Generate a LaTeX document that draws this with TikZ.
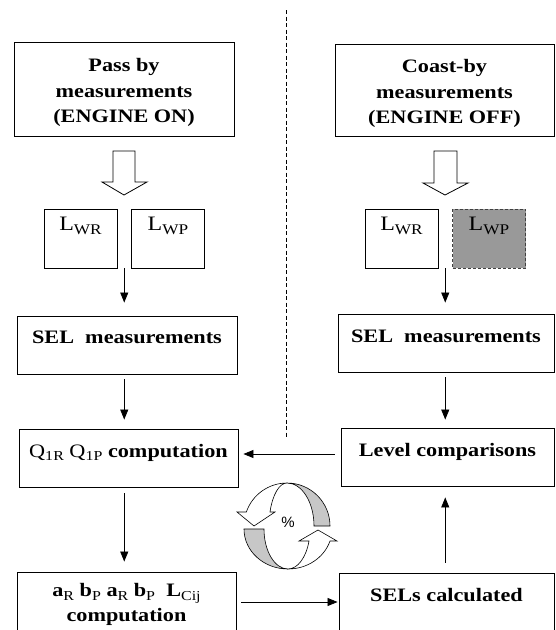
\documentclass[tikz,border=0pt]{standalone}
\usepackage{fontspec}
\setmainfont{Liberation Serif}[FakeStretch=1.17]
\newfontfamily\pctfont{Liberation Sans}
\usetikzlibrary{arrows.meta,calc}
\newcommand\sbx[1]{\raisebox{-0.2em}{\mdseries\scalebox{0.72}{#1}}}
\newcommand\tstrut{\rule{0pt}{21pt}}

\begin{document}
\begin{tikzpicture}[x=1pt,y=-1pt,
	box/.style={draw,line width=0.9pt,inner sep=0pt,font=\fontsize{19}{25.5}\selectfont\bfseries},
	onebox/.style={box,text height=28pt,text depth=30pt},
	lbox/.style={draw,line width=0.9pt,inner sep=0pt,minimum width=73pt,text height=21pt,text depth=38pt,font=\fontsize{20.5}{24}\selectfont},
	flow/.style={-{Triangle[length=10pt,width=8pt]},line width=0.8pt},
	hollow/.style={draw,fill=white,line width=0.8pt},
	band/.style={draw,fill=black!22,line width=0.6pt},
	ribbon/.style={draw,fill=white,line width=0.6pt},
	divider/.style={line width=0.55pt,dash pattern=on 4pt off 2.5pt}]
	\useasboundingbox (0,0) rectangle (555,630);
	
	% left: engine on
	\node[box,align=center,minimum width=220pt,minimum height=94pt] (pass) at (124,89) {\tstrut Pass by\\measurements\\(ENGINE ON)};
	\node[lbox] (lwr1) at (80.5,238.5) {L\sbx{WR}};
	\node[lbox] (lwp1) at (168,238.5) {L\sbx{WP}};
	\node[onebox,minimum width=220pt,text height=27pt,text depth=31pt] (sel1) at (127,345) {SEL\ \ measurements};
	\node[onebox,minimum width=219pt] (qcomp) at (128.5,458) {{\mdseries Q\sbx{1R} Q\sbx{1P}} computation};
	\node[box,align=center,minimum width=219pt,minimum height=60pt] (coef) at (126.5,602) {\rule{0pt}{18pt}a\sbx{R} b\sbx{P} a\sbx{R} b\sbx{P}\ \ L\sbx{Cij}\\computation};
	
	% right: engine off
	\node[box,align=center,minimum width=219pt,minimum height=92pt] (coast) at (444.5,90) {\tstrut Coast-by\\measurements\\(ENGINE OFF)};
	\node[lbox] (lwr2) at (401.5,238.5) {L\sbx{WR}};
	\node[lbox,fill=black!40,draw=black!75,dash pattern=on 3pt off 2pt] (lwp2) at (489,238.5) {L\sbx{WP}};
	\node[onebox,minimum width=216pt] (sel2) at (446,343) {SEL\ \ measurements};
	\node[onebox,minimum width=213pt] (level) at (447.5,457) {Level comparisons};
	\node[onebox,minimum width=215pt,text depth=32pt] (selcalc) at (446.5,603) {SELs calculated};
	
	% divider
	\coordinate (dtop) at (286,10);
	\coordinate (dbot) at (286,437);
	\draw[divider] (dtop) -- (dbot);
	
	% block arrows
	\draw[hollow] (113,151) -- (135,151) -- (135,182) -- (147,182) -- (124,195) -- (102,182) -- (113,182) -- cycle;
	\draw[hollow] (434,151) -- (457,151) -- (457,183) -- (468,183) -- (445,195) -- (423,183) -- (434,183) -- cycle;
	
	% connectors
	\coordinate (m1) at ($(lwr1.south east)!0.5!(lwp1.south west)$);
	\coordinate (m2) at ($(lwr2.south east)!0.5!(lwp2.south west)$);
	\draw[flow,shorten >=13pt] (m1) -- (m1 |- sel1.north);
	\draw[flow,shorten >=11pt] (m2) -- (m2 |- sel2.north);
	\draw[flow,shorten <=5pt,shorten >=9pt] (sel1.south -| m1) -- (qcomp.north -| m1);
	\draw[flow,shorten <=6pt,shorten >=10pt] (qcomp.south -| m1) -- (coef.north -| m1);
	\draw[flow,shorten <=5pt,shorten >=8pt] (sel2.south -| m2) -- (level.north -| m2);
	\draw[flow,shorten <=10pt,shorten >=11pt] (selcalc.north -| m2) -- (level.south -| m2);
	\draw[flow,shorten <=6pt,shorten >=5pt] ([yshift=3pt]level.west) -- ([yshift=3pt]level.west -| qcomp.east);
	\draw[flow,shorten <=5pt,shorten >=1pt] (coef.east) -- (coef.east -| selcalc.west);
	
	% iteration arrows
	\filldraw[band] (287,483) arc[start angle=-90,end angle=0,radius=43] -- (314,526) arc[start angle=0,end angle=-90,x radius=27,y radius=43] -- cycle;
	\filldraw[ribbon] (287,483) arc[start angle=-90,end angle=-161,radius=43] -- (237,512) -- (254,526) -- (275,512) -- (270,512) arc[start angle=-161,end angle=-90,x radius=18,y radius=43] -- cycle;
	\filldraw[band] (244,529) arc[start angle=180,end angle=90,x radius=44,y radius=40] arc[start angle=90,end angle=180,x radius=24,y radius=40] -- cycle;
	\filldraw[ribbon] (288,569) arc[start angle=90,end angle=17.5,x radius=44,y radius=40] -- (337,541) -- (318,530) -- (299,541) -- (309,541) arc[start angle=17.5,end angle=90,x radius=22,y radius=40] -- cycle;
	\node[font=\pctfont\fontsize{15}{15}\selectfont,inner sep=0pt] (pct) at (288,522) {\%};
\end{tikzpicture}
\end{document}
